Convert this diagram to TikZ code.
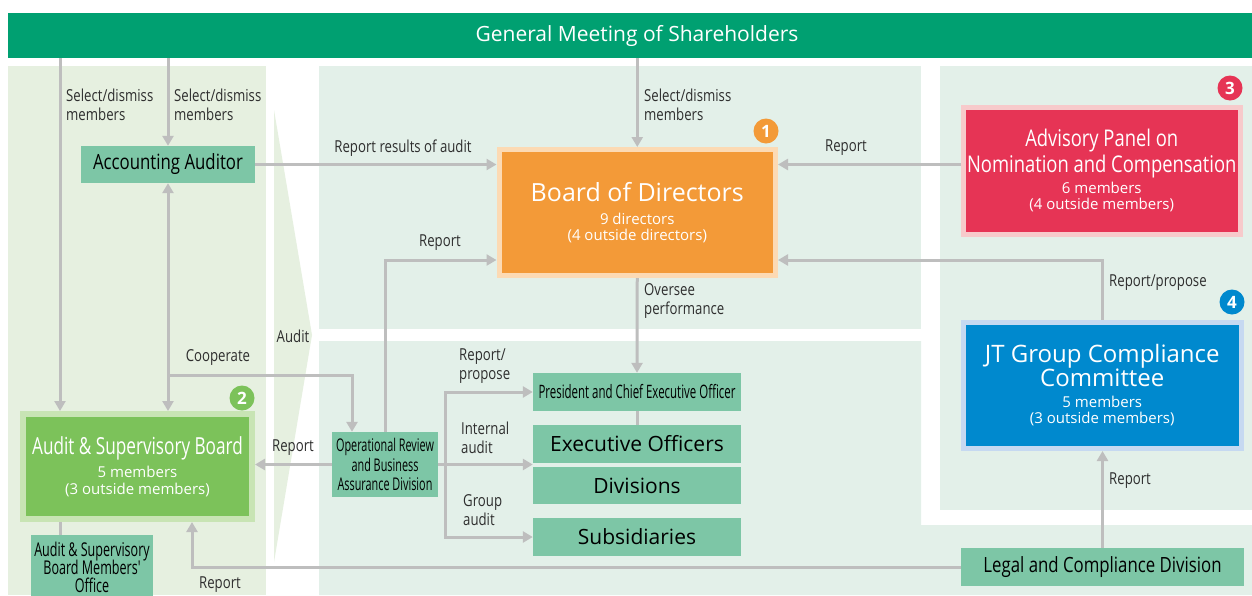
\documentclass[tikz,border=0pt]{standalone}
\usepackage{fontspec}
\setmainfont{Open Sans}
\newfontfamily\fA[FakeStretch=0.8]{Open Sans}
\newfontfamily\fB[FakeStretch=0.73]{Open Sans}
\newfontfamily\fC[FakeStretch=0.62]{Open Sans}
\newfontfamily\fD[FakeStretch=0.66]{Open Sans}
\usetikzlibrary{arrows.meta}
\definecolor{topgreen}{HTML}{00A071}
\definecolor{panelC}{HTML}{E3F0E9}
\definecolor{panelL}{HTML}{E6F0E0}
\definecolor{tealbox}{HTML}{7DC6A6}
\definecolor{bodO}{HTML}{F39A38}
\definecolor{bodB}{HTML}{FCDAB4}
\definecolor{advR}{HTML}{E63455}
\definecolor{advB}{HTML}{F7CACB}
\definecolor{jtB}{HTML}{0089CE}
\definecolor{jtBd}{HTML}{C6D9F1}
\definecolor{asbG}{HTML}{7CC25A}
\definecolor{asbB}{HTML}{C8E4B4}
\definecolor{lineG}{HTML}{BEBEBE}
\definecolor{lbltxt}{HTML}{2E2E2E}
\newcommand\szT[1]{\fontsize{#1}{30}\selectfont}
\newcommand\boxnode[7]{\node[#6,minimum width={(#4)-(#2)},minimum height={(#5)-(#3)}] (#1) at ({((#2)+(#4))/2},{((#3)+(#5))/2}) {#7};}
\begin{document}
\begin{tikzpicture}[x=1pt,y=-1pt,
  conn/.style={draw=lineG,line width=3pt},
  arr/.style={conn,-{Triangle[length=10pt,width=11pt]}},
  darr/.style={conn,{Triangle[length=10pt,width=11pt]}-{Triangle[length=10pt,width=11pt]}},
  lbl/.style={font=\fA\fontsize{16.5}{19.5}\selectfont,inner sep=0,align=left,text=lbltxt},
  tbox/.style={fill=tealbox,inner sep=0,text=black,align=center},
  bigbox/.style={inner sep=0,text=white,align=center,font=\szT{15}},
  badge/.style={circle,minimum size=25pt,inner sep=0,text=white,font=\bfseries\fontsize{17}{17}\selectfont}]
\useasboundingbox (0,0) rectangle (1252,595);
\fill[white] (0,0) rectangle (1252,595);
% background panels
\fill[panelL] (8,66) rectangle (266,595);
\fill[panelL] (274,110) -- (312,335) -- (274,562) -- cycle;
\fill[panelC] (319,66) rectangle (921,329);
\fill[panelC] (319,341) -- (921,341) -- (921,525) -- (1252,525) -- (1252,595) -- (319,595) -- cycle;
\fill[panelC] (940,66) rectangle (1252,510);
% top bar
\node[fill=topgreen,minimum width=1258pt,minimum height=45pt,inner sep=0,text=white,font=\fontsize{21}{24}\selectfont] (gm) at (637,35.5) {General Meeting of Shareholders};
% column / row helpers
\coordinate (xa) at (60,0);
\coordinate (xe) at (352,0);
\coordinate (xf) at (445,0);
\coordinate (xh) at (192,0);
\coordinate (ra) at (0,260);
\coordinate (rc) at (0,375);
% boxes
\boxnode{aa}{81}{146}{255}{183}{tbox,font=\fA\fontsize{21}{24}\selectfont}{Accounting Auditor}
\boxnode{bod}{499}{149.5}{775.5}{275.5}{bigbox,fill=bodO,draw=bodB,line width=5pt}{\szT{25}Board of Directors\\[-6.7pt]\szT{15}9 directors\\[-14pt]\szT{15}(4 outside directors)}
\boxnode{adv}{963.5}{107}{1240}{234}{bigbox,fill=advR,draw=advB,line width=5pt}{\fA\szT{23}Advisory Panel on\\[-4.3pt]\fA\szT{23}Nomination and Compensation\\[-9pt]\rmfamily\szT{15}6 members\\[-14.4pt]\rmfamily\szT{15}(4 outside members)}
\boxnode{jt}{963.5}{322}{1241}{448.5}{bigbox,fill=jtB,draw=jtBd,line width=5pt}{\szT{24}JT Group Compliance\\[-6pt]\szT{24}Committee\\[-9pt]\szT{15}5 members\\[-14.4pt]\szT{15}(3 outside members)}
\boxnode{asb}{23}{414}{252}{519}{bigbox,fill=asbG,draw=asbB,line width=6pt}{\fB\szT{23.5}Audit \& Supervisory Board\\[-7pt]\rmfamily\szT{15}5 members\\[-13.3pt]\rmfamily\szT{15}(3 outside members)}
\boxnode{office}{31}{535}{153}{600}{tbox,font=\szT{19}}{\fD\szT{19}Audit \& Supervisory\\[-12pt]\fD\szT{19}Board Members'\\[-12pt]\fD\szT{19}Office}
\boxnode{op}{332}{432}{438}{497}{tbox,font=\szT{17.5}}{\fC\szT{17.5}Operational Review\\[-10.5pt]\fC\szT{17.5}and Business\\[-10.5pt]\fC\szT{17.5}Assurance Division}
\boxnode{pres}{533}{373}{741}{411}{tbox,font=\fC\fontsize{18.5}{22}\selectfont}{President and Chief Executive Officer}
\boxnode{exo}{533}{425}{741}{463}{tbox,font=\fontsize{21}{25}\selectfont}{Executive Officers}
\boxnode{div}{533}{467}{741}{504}{tbox,font=\fontsize{21}{25}\selectfont}{Divisions}
\boxnode{subs}{533}{518}{741}{556}{tbox,font=\fontsize{21}{25}\selectfont}{Subsidiaries}
\boxnode{legal}{961}{548}{1244}{586}{tbox,font=\fA\fontsize{21}{25}\selectfont}{Legal and Compliance Division}
% badges
\node[badge,fill=bodO] (b1) at (766,131) {1};
\node[badge,fill=asbG] (b2) at (242,398) {2};
\node[badge,fill=advR] (b3) at (1230,88) {3};
\node[badge,fill=jtB] (b4) at (1232,302) {4};
% connectors
\draw[arr] (gm.south -| xa) -- (asb.north -| xa);
\draw[arr] (gm.south -| aa.north) -- (aa.north);
\draw[arr] (gm.south -| bod.north) -- (bod.north);
\draw[arr] (aa.east) -- (aa.east -| bod.west);
\draw[darr] (aa.south) -- (asb.north -| aa.south);
\draw[arr] (aa.south |- rc) -| (op.north -| xe);
\draw[arr] (op.north) |- (bod.west |- ra);
\draw[arr] (op.west) -- (op.west -| asb.east);
\draw[conn] (op.east) -- (op.east -| xf);
\draw[arr] (op.east -| xf) |- (pres.west);
\draw[arr] (op.east -| xf) -- (op.east -| exo.west);
\draw[arr] (op.east -| xf) |- (subs.west);
\draw[arr] (bod.south) -- (pres.north);
\draw[conn] (pres.south) -- (exo.north);
\draw[arr] (aa.east -| adv.west) -- (aa.east -| bod.east);
\draw[arr] (jt.north) |- (bod.east |- ra);
\draw[arr] (legal.north) -- (legal.north |- jt.south);
\draw[arr] (legal.west) -| (asb.south -| xh);
\draw[conn] (asb.south -| xa) -- (office.north -| xa);
% labels
\node[lbl,anchor=west] (l1) at (66,105) {Select/dismiss\\members};
\node[lbl,anchor=west] (l2) at (174,105) {Select/dismiss\\members};
\node[lbl,anchor=west] (l3) at (644,105) {Select/dismiss\\members};
\node[lbl] (l4) at (403,148) {Report results of audit};
\node[lbl] (l5) at (440,243) {Report};
\node[lbl,anchor=west] (l6) at (644,301) {Oversee\\performance};
\node[lbl] (l7) at (846,148) {Report};
\node[lbl,anchor=west] (l8) at (1109,283) {Report/propose};
\node[lbl,anchor=west] (l9) at (1109,481) {Report};
\node[lbl] (l10) at (293,336) {Audit};
\node[lbl] (l11) at (218,357) {Cooperate};
\node[lbl] (l12) at (293,448) {Report};
\node[lbl] (l13) at (220,585) {Report};
\node[lbl,anchor=west] (l14) at (459,366) {Report/\\propose};
\node[lbl,anchor=west] (l15) at (461,438) {Internal\\audit};
\node[lbl,anchor=west] (l16) at (463,510) {Group\\audit};
\end{tikzpicture}
\end{document}
